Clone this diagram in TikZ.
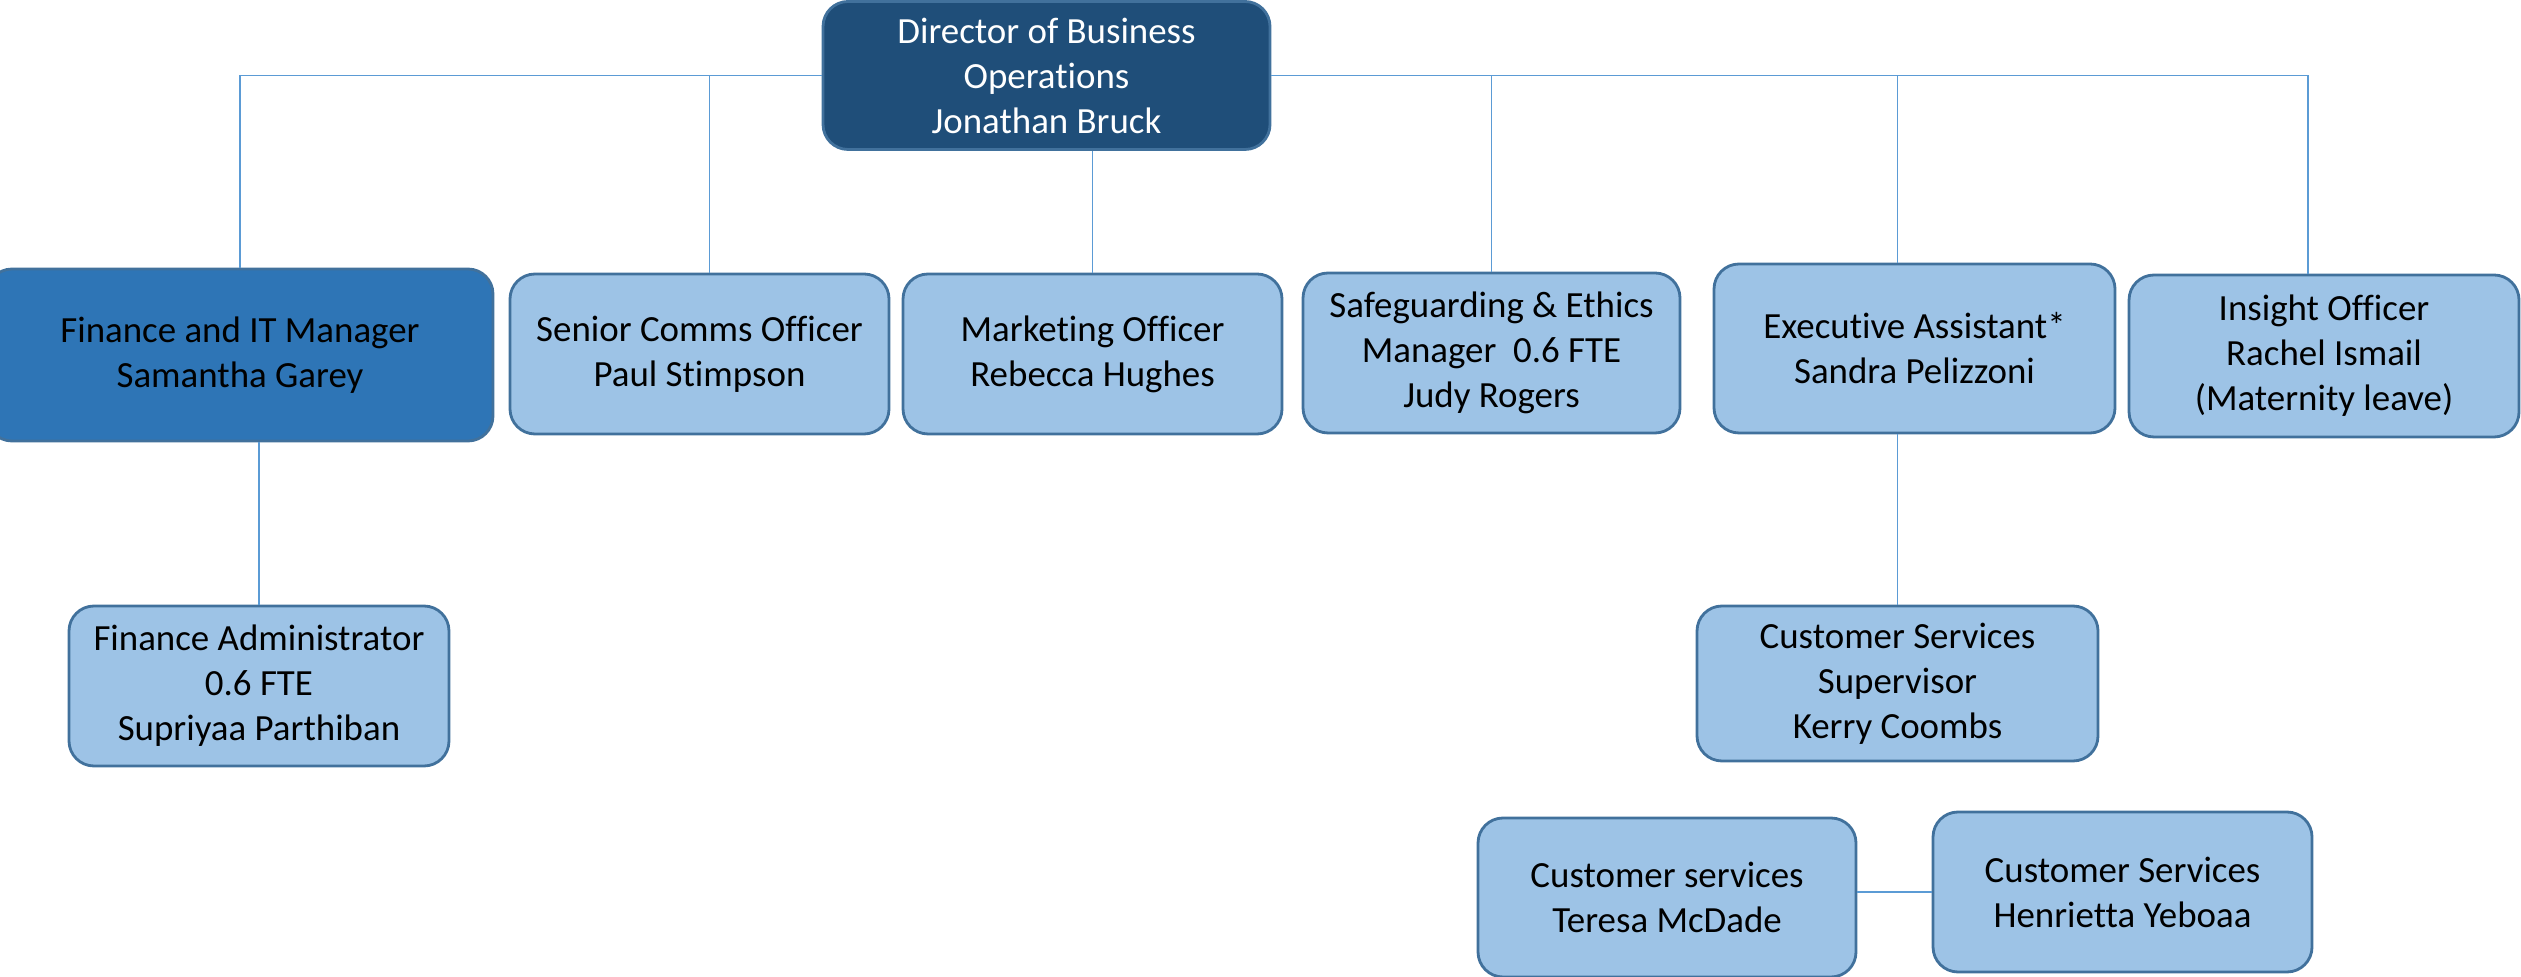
\documentclass[tikz,border=0pt]{standalone}
\usepackage{fontspec}
\setmainfont{Carlito}[Ligatures=NoCommon]
\usepackage{tikz}
\usetikzlibrary{positioning}
\usetikzlibrary{calc}
\definecolor{navy-box}{RGB}{31,78,121}
\definecolor{mid-box}{RGB}{46,117,182}
\definecolor{light-box}{RGB}{157,195,230}
\definecolor{box-edge}{RGB}{65,113,156}
\definecolor{link-blue}{RGB}{91,155,213}

\begin{document}
\begin{tikzpicture}[x=1cm, y=1cm,
box/.style={draw=box-edge,line width=0.8pt,fill=light-box,rounded corners=0.25cm,inner sep=0pt,align=center,text=black,font=\fontsize{10.5}{12.8}\selectfont,minimum width=#1},
box/.default=3.79cm,
link/.style={link-blue,line width=0.45pt}]
\useasboundingbox (0,0) rectangle (25.21,-9.77);

% top
\node [box=4.47cm, fill=navy-box, text=white, minimum height=1.48cm] (dir) at (10.465,-0.755) {Director of Business\\ Operations\\ Jonathan Bruck};

% second row
\node [box=5.06cm, fill=mid-box, minimum height=1.72cm] (fin) at (2.40,-3.55) {Finance and IT Manager\\ Samantha Garey};
\node [box, minimum height=1.60cm] (comms) at (6.995,-3.54) {Senior Comms Officer\\ Paul Stimpson};
\node [box, minimum height=1.60cm] (mkt) at (10.925,-3.54) {Marketing Officer\\ Rebecca Hughes};
\node [box=3.77cm, minimum height=1.60cm] (safe) at (14.915,-3.53) {Safeguarding \& Ethics\\ Manager\ \ 0.6 FTE\\ Judy Rogers};
\node [box=4.01cm, minimum height=1.69cm] (exec) at (19.145,-3.485) {Executive Assistant*\\ Sandra Pelizzoni};
\node [box=3.90cm, minimum height=1.62cm] (ins) at (23.24,-3.56) {Insight Officer\\ Rachel Ismail\\ (Maternity leave)};

% third row
\node [box=3.80cm, minimum height=1.60cm] (finadm) at (2.59,-6.86) {Finance Administrator\\ 0.6 FTE\\ Supriyaa Parthiban};
\node [box=4.01cm, minimum height=1.55cm] (sup) at (18.975,-6.835) {Customer Services\\ Supervisor\\ Kerry Coombs};

% bottom row
\node [box=3.78cm, minimum height=1.59cm] (teresa) at (16.67,-8.975) {Customer services\\ Teresa McDade};
\node [box, minimum height=1.60cm] (henr) at (21.225,-8.92) {Customer Services\\ Henrietta Yeboaa};

% lines
\draw [link] (fin.north) |- (dir.west);
\draw [link] ([xshift=0.10cm]comms.north) |- (dir.west);
\draw [link] (dir.south -| mkt.north) -- (mkt.north);
\draw [link] (safe.north) |- (dir.east);
\draw [link] ([xshift=-0.17cm]exec.north) |- (dir.east);
\draw [link] ([xshift=-0.16cm]ins.north) |- (dir.east);
\draw [link] (fin.south -| finadm.north) -- (finadm.north);
\draw [link] (exec.south -| sup.north) -- (sup.north);
\draw [link] (teresa.east |- henr.west) -- (henr.west);

\end{tikzpicture}
\end{document}
